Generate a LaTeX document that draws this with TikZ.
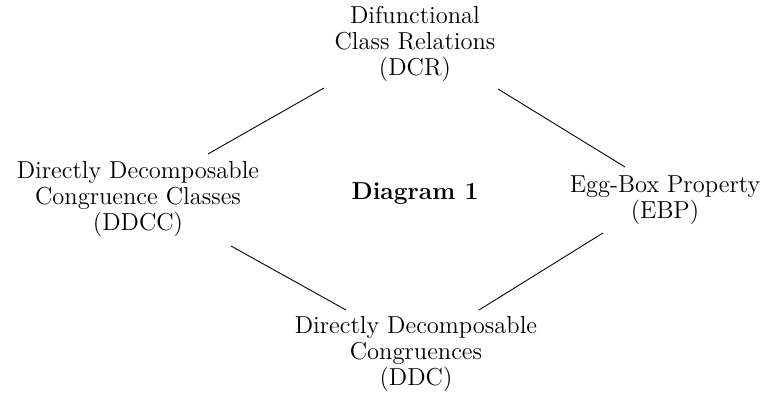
\documentclass[tikz,border=0pt]{standalone}
\begin{document}
\begin{tikzpicture}[x=0.4566pt,y=-0.4566pt,
  lbl/.style={align=center,inner sep=0pt,font=\fontsize{11.2}{11.9}\selectfont},
  conn/.style={line width=0.4pt}]
\useasboundingbox (0,0) rectangle (765,397);
\node[lbl] (dcr) at (415,44) {Difunctional\\Class Relations\\(DCR)};
\node[lbl] (ddcc) at (138,199) {Directly Decomposable\\Congruence Classes\\(DDCC)};
\node[lbl] (ebp) at (665,200) {Egg-Box Property\\(EBP)};
\node[lbl] (ddc) at (416,354) {Directly Decomposable\\Congruences\\(DDC)};
\node[lbl,font=\fontsize{11.2}{11.9}\selectfont\bfseries] (dia) at (415,194) {Diagram 1};
\coordinate (a1) at (324,88); \coordinate (a2) at (208,154);
\coordinate (b1) at (498,89); \coordinate (b2) at (625,167);
\coordinate (c1) at (231,246); \coordinate (c2) at (346,310);
\coordinate (d1) at (603,233); \coordinate (d2) at (479,310);
\draw[conn] (a1) -- (a2);
\draw[conn] (b1) -- (b2);
\draw[conn] (c1) -- (c2);
\draw[conn] (d1) -- (d2);
\end{tikzpicture}
\end{document}
